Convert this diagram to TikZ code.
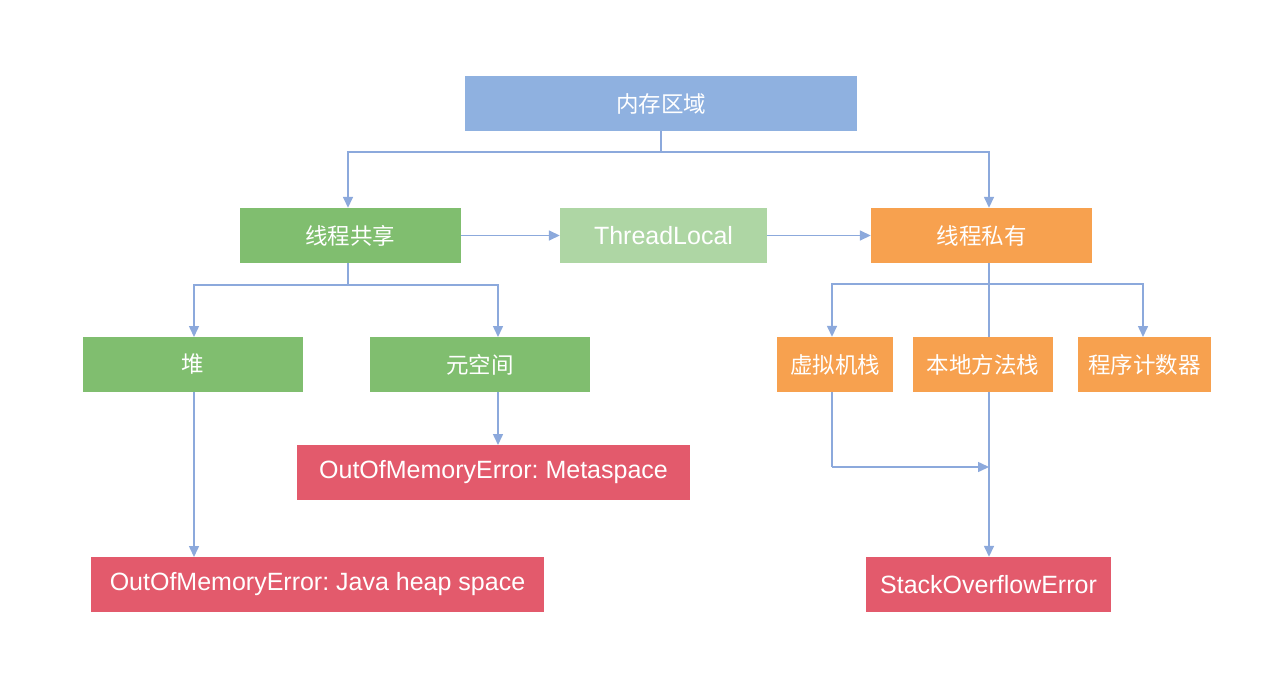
\documentclass[tikz,border=0pt]{standalone}
\usepackage{fontspec}
\setmainfont{Liberation Sans}
\newfontfamily\cjk{Noto Sans CJK SC}
\usetikzlibrary{arrows.meta}
\definecolor{cblue}{HTML}{8FB1E0}
\definecolor{cgreen}{HTML}{80BE6F}
\definecolor{clgreen}{HTML}{AED6A4}
\definecolor{corange}{HTML}{F7A14F}
\definecolor{cred}{HTML}{E35A6C}
\definecolor{cline}{HTML}{8CA9DC}
\begin{document}
\begin{tikzpicture}[x=1pt,y=-1pt,
  box/.style={rectangle,inner sep=0pt,text=white,font=\fontsize{25}{29}\selectfont\frenchspacing,minimum height=55pt},
  cn/.style={box,font=\fontsize{22.5}{26}\selectfont\cjk},
  conn/.style={draw=cline,line width=1.5pt},
  arr/.style={conn,-{Triangle[length=11pt,width=10pt]}}]
\useasboundingbox[fill=white] (0,0) rectangle (1268,674);
% nodes
\node[cn,fill=cblue,minimum width=392pt] (mem) at (661,103.5) {内存区域};
\node[cn,fill=cgreen,minimum width=221pt] (share) at (350,235.5) {线程共享};
\node[box,fill=clgreen,minimum width=207pt] (tl) at (663.5,235.5) {ThreadLocal};
\node[cn,fill=corange,minimum width=221pt] (priv) at (981.5,235.5) {线程私有};
\node[cn,fill=cgreen,minimum width=220pt] (heap) at (193,364.5) {堆};
\node[cn,fill=cgreen,minimum width=220pt] (meta) at (480,364.5) {元空间};
\node[cn,fill=corange,minimum width=116pt] (vms) at (835,364.5) {虚拟机栈};
\node[cn,fill=corange,minimum width=140pt] (nms) at (983,364.5) {本地方法栈};
\node[cn,fill=corange,minimum width=133pt] (pc) at (1144.5,364.5) {程序计数器};
\node[box,fill=cred,minimum width=393pt] (oomm) at (493.5,472.5) {OutOfMemoryError: Metaspace};
\node[box,fill=cred,minimum width=453pt] (oomh) at (317.5,584.5) {OutOfMemoryError: Java heap space};
\node[box,fill=cred,minimum width=245pt] (soe) at (988.5,584.5) {StackOverflowError};
% helper coordinates
\coordinate (j0) at (661,152);
\coordinate (j1) at (348,285);
\coordinate (j2) at (989,284);
\coordinate (j3) at (832,467);
% connectors
\draw[conn] (mem.south) -- (j0);
\draw[arr] (j0) -| (j1 |- share.north);
\draw[arr] (j0) -| (j2 |- priv.north);
\draw[arr] (share.east) -- (tl.west);
\draw[arr] (tl.east) -- (priv.west);
\draw[conn] (j1 |- share.south) -- (j1);
\draw[arr] (j1) -| (194,337);
\draw[arr] (j1) -| (498,337);
\draw[conn] (j2 |- priv.south) -- (j2 |- nms.north);
\draw[arr] (j2) -| (j3 |- vms.north);
\draw[arr] (j2) -| (1143,337);
\draw[arr] (194,392) -- (194,557);
\draw[arr] (498,392) -- (498,445);
\draw[conn] (j3 |- vms.south) -- (j3);
\draw[arr] (j3) -- (j2 |- j3);
\draw[arr] (j2 |- nms.south) -- (j2 |- soe.north);
\end{tikzpicture}
\end{document}
